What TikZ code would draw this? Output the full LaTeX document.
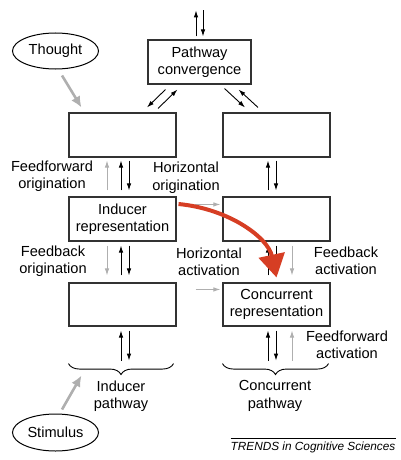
\documentclass[tikz,border=0pt]{standalone}
\usepackage{fontspec}
\setmainfont{Liberation Sans}
\usetikzlibrary{arrows.meta,calc,decorations.pathreplacing,shapes.geometric}
\definecolor{lgray}{RGB}{175,175,175}
\definecolor{redarr}{RGB}{214,62,36}
\definecolor{boxline}{RGB}{50,50,50}
\begin{document}
\begin{tikzpicture}[x=1pt,y=-1pt,
 font=\fontsize{14.6}{17.5}\selectfont,
 box/.style={draw=boxline,line width=1.1pt,minimum width=107pt,minimum height=44pt,inner sep=0pt,align=center},
 lbl/.style={align=center,inner sep=0pt},
 barr/.style={-{Latex[length=7pt,width=4.5pt]},line width=0.9pt,black},
 garr/.style={-{Latex[length=7pt,width=4.5pt]},line width=0.9pt,lgray},
 bigg/.style={-{Latex[length=11pt,width=10pt]},line width=2.6pt,lgray},
 oval/.style={draw=black,ellipse,line width=1pt,minimum width=86pt,minimum height=36pt,inner sep=0pt},
 brc/.style={decorate,decoration={brace,mirror,amplitude=11pt},line width=0.9pt}
]
\useasboundingbox (0,0) rectangle (400,460);

% boxes
\node[box,minimum width=103pt] (conv) at (199.5,62) {Pathway\\convergence};
\node[box] (tl) at (122.5,135) {};
\node[box] (tr) at (276.5,135) {};
\node[box] (ind) at (122.5,219) {Inducer\\representation};
\node[box] (mr) at (276.5,219) {};
\node[box,minimum height=43pt] (bl) at (122.5,304.5) {};
\node[box,minimum height=43pt] (conc) at (276.5,304.5) {Concurrent\\representation};

% ovals
\node[oval] (thought) at (55.5,51) {Thought};
\node[oval,minimum height=37pt] (stim) at (55.5,432.5) {Stimulus};

% labels
\node[lbl] (ffo) at (52,176) {Feedforward\\origination};
\node[lbl] (ho) at (186,177.5) {Horizontal\\origination};
\node[lbl] (fbo) at (53,261) {Feedback\\origination};
\node[lbl] (ha) at (209,262) {Horizontal\\activation};
\node[lbl] (fba) at (346,261) {Feedback\\activation};
\node[lbl] (ffa) at (347,345) {Feedforward\\activation};
\node[lbl] (ip) at (121,396) {Inducer\\pathway};
\node[lbl] (cp) at (275,396) {Concurrent\\pathway};
\node[lbl,font=\fontsize{11.8}{14}\selectfont\itshape] (trends) at (313,447) {TRENDS in Cognitive Sciences};
\draw[line width=0.8pt] ($(trends.north west)+(0,-2.5)$) -- ($(trends.north east)+(0,-2.5)$);

% top arrows
\draw[barr] ($(conv.north)+(-3.5,-3)$) -- ($(conv.north)+(-3.5,-29)$);
\draw[barr] ($(conv.north)+(3.5,-29)$) -- ($(conv.north)+(3.5,-3)$);

% diagonal arrows
\draw[barr] ($(conv.south west)+(18,5)$) -- ($(tl.north)+(24.5,-5)$);
\draw[barr] ($(tl.north)+(35.5,-4)$) -- ($(conv.south west)+(30,5)$);
\draw[barr] ($(conv.south east)+(-27,4)$) -- ($(tr.north)+(-31.5,-5)$);
\draw[barr] ($(tr.north)+(-18.5,-5)$) -- ($(conv.south east)+(-13,5)$);

% left column
\draw[garr] ($(ind.north)+(-15.5,-6)$) -- ($(tl.south)+(-15.5,3)$);
\draw[barr] ($(ind.north)+(-1.5,-6)$) -- ($(tl.south)+(-1.5,3)$);
\draw[barr] ($(tl.south)+(6.5,3)$) -- ($(ind.north)+(6.5,-6)$);

\draw[garr] ($(ind.south)+(-15.5,4)$) -- ($(bl.north)+(-15.5,-7)$);
\draw[barr] ($(bl.north)+(-1.5,-7)$) -- ($(ind.south)+(-1.5,4)$);
\draw[barr] ($(ind.south)+(6.5,4)$) -- ($(bl.north)+(6.5,-7)$);

\draw[barr] ($(bl.south)+(-1.5,34)$) -- ($(bl.south)+(-1.5,4)$);
\draw[barr] ($(bl.south)+(6.5,4)$) -- ($(bl.south)+(6.5,34)$);

% right column
\draw[barr] ($(mr.north)+(-8.5,-6)$) -- ($(tr.south)+(-8.5,3)$);
\draw[barr] ($(tr.south)+(-0.5,3)$) -- ($(mr.north)+(-0.5,-6)$);

\draw[barr] ($(conc.north)+(-8.5,-7)$) -- ($(mr.south)+(-8.5,4)$);
\draw[barr] ($(mr.south)+(-0.5,4)$) -- ($(conc.north)+(-0.5,-7)$);
\draw[garr] ($(mr.south)+(15.5,4)$) -- ($(conc.north)+(15.5,-7)$);

\draw[barr] ($(conc.south)+(-8.5,34)$) -- ($(conc.south)+(-8.5,4)$);
\draw[barr] ($(conc.south)+(-0.5,4)$) -- ($(conc.south)+(-0.5,34)$);
\draw[garr] ($(conc.south)+(15.5,34)$) -- ($(conc.south)+(15.5,4)$);

% horizontal gray arrows
\draw[garr] ($(ind.north east)+(18,8)$) -- ($(mr.north west)+(-2,8)$);
\draw[garr] ($(bl.north east)+(19,7)$) -- ($(conc.north west)+(-2,7)$);

% braces
\coordinate (lb1) at ($(bl.south west)+(0,37)$);
\coordinate (lb2) at ($(bl.south east)+(-3,37)$);
\coordinate (rb1) at ($(conc.south west)+(0,37)$);
\coordinate (rb2) at ($(conc.south east)+(-2,37)$);
\draw[brc] (lb1) -- (lb2);
\draw[brc] (rb1) -- (rb2);

% big gray arrows
\draw[bigg] ($(thought.south)+(6.5,6)$) -- ($(tl.north west)+(13,-5)$);
\draw[bigg] ($(stim.north)+(6.5,-4)$) -- ($(bl.south west)+(13,49)$);

% red arrow
\draw[redarr,line width=4pt,-{Triangle[length=23pt,width=26pt]}]
  ($(ind.east)+(2,-15)$) .. controls (230,209) and (268,238) .. ($(conc.north)+(0,-5)$);
\end{tikzpicture}
\end{document}
